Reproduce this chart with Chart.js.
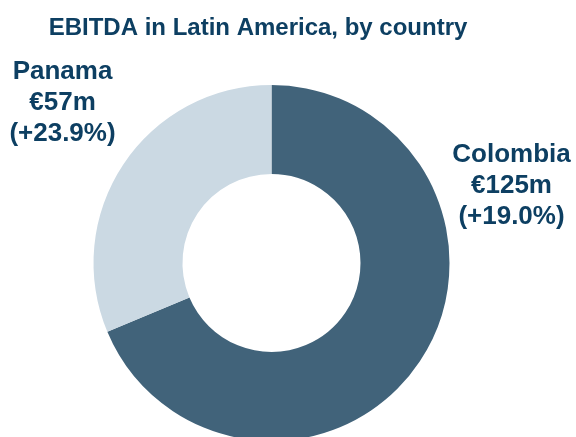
<!DOCTYPE html>
<html>
<head>
<meta charset="utf-8">
<script src="https://cdn.jsdelivr.net/npm/chart.js@4"></script>
<style>
  html, body { margin: 0; padding: 0; background: #fff; overflow: hidden; }
  #wrap { width: 576px; height: 437px; overflow: hidden; }
</style>
</head>
<body>
<div id="wrap"><canvas id="ebitdaChart" width="576" height="450"></canvas></div>
<script>
const countries = ["Colombia", "Panama"];
const ebitda = [125, 57];
const growth = ["+19.0%", "+23.9%"];
const colors = ["#41637a", "#cbd9e3"];
const titleText = "EBITDA in Latin America, by country";
const textColor = "#0d3f62";

// label anchor (first baseline) per slice, relative to the doughnut top
const labelSpots = [
  { dx: 240, dy: 77 },  // Colombia
  { dx: -209, dy: -6 }  // Panama
];

const textPlugin = {
  id: "textPlugin",
  afterDraw(chart) {
    const ctx = chart.ctx;
    const meta = chart.getDatasetMeta(0);
    const arc = meta.data[0];
    const cx = arc.x, top = arc.y - arc.outerRadius;
    ctx.save();
    ctx.fillStyle = textColor;
    ctx.textAlign = "center";
    ctx.textBaseline = "alphabetic";
    ctx.font = "bold 24px 'Liberation Sans', Arial, sans-serif";
    ctx.fillText(titleText, 258, 35);

    ctx.font = "bold 26px 'Liberation Sans', Arial, sans-serif";
    countries.forEach((c, i) => {
      const x = cx + labelSpots[i].dx;
      const y = top + labelSpots[i].dy;
      const lines = [c, "€" + ebitda[i] + "m", "(" + growth[i] + ")"];
      lines.forEach((t, j) => ctx.fillText(t, x, y + j * 31));
    });
    ctx.restore();
  }
};

new Chart(document.getElementById("ebitdaChart"), {
  type: "doughnut",
  data: {
    labels: countries,
    datasets: [{
      data: ebitda,
      backgroundColor: colors,
      borderWidth: 0,
      hoverOffset: 0
    }]
  },
  options: {
    responsive: false,
    animation: false,
    cutout: "50%",
    layout: { padding: { left: 93.5, right: 126.5, top: 85, bottom: 9 } },
    plugins: {
      legend: { display: false },
      tooltip: { enabled: false },
      title: { display: false }
    }
  },
  plugins: [textPlugin]
});
</script>
</body>
</html>
